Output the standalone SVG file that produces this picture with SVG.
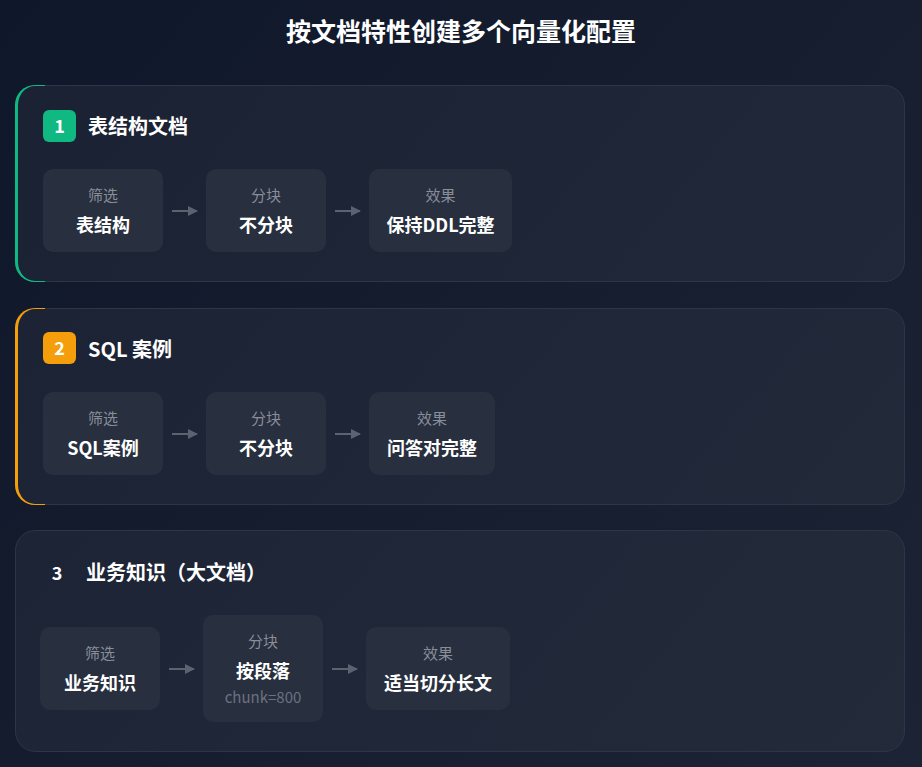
<svg xmlns="http://www.w3.org/2000/svg" width="922" height="767" viewBox="0 0 922 767">
<defs>
<linearGradient id="bg" x1="0" y1="0" x2="922" y2="767" gradientUnits="userSpaceOnUse">
<stop offset="0" stop-color="#0f172a"/><stop offset="1" stop-color="#1c2334"/>
</linearGradient>
<linearGradient id="card" x1="0" y1="0" x2="922" y2="767" gradientUnits="userSpaceOnUse">
<stop offset="0" stop-color="#1a2133"/><stop offset="1" stop-color="#232b3b"/>
</linearGradient>
<mask id="m1"><rect x="15" y="85" width="890" height="197" rx="20" fill="#fff"/><rect x="18" y="86" width="887" height="195" rx="17" ry="19" fill="#000"/></mask>
<mask id="m2"><rect x="15" y="308" width="890" height="197" rx="20" fill="#fff"/><rect x="18" y="309" width="887" height="195" rx="17" ry="19" fill="#000"/></mask>
<marker id="ah" viewBox="0 0 10 10" refX="9" refY="5" markerWidth="10" markerHeight="10" markerUnits="userSpaceOnUse" orient="auto"><path d="M0,0 L10,5 L0,10 z" fill="#5b6270"/></marker>
<style>
text{font-family:"Noto Sans CJK SC","Noto Sans",sans-serif}
.title{font-size:25px;font-weight:700;fill:#ffffff}
.card{fill:url(#card);stroke:#2d3546;stroke-width:1}
.h{font-size:20px;font-weight:700;fill:#ffffff}
.badge-t{font-size:18px;font-weight:700;fill:#ffffff}
.box{fill:#282f3e}
.lab{font-size:15px;fill:#888e9a;text-anchor:middle}
.val{font-size:18px;font-weight:700;fill:#ffffff;text-anchor:middle}
.sub{font-size:15px;fill:#6b7280;text-anchor:middle}
.arr{stroke:#5b6270;stroke-width:2;fill:none}
</style>
</defs>
<rect width="922" height="767" fill="url(#bg)"/>
<text class="title" x="461" y="41" text-anchor="middle">按文档特性创建多个向量化配置</text>

<g id="card1">
<rect class="card" x="15.5" y="85.5" width="889" height="196" rx="20"/>
<rect x="15" y="85" width="30" height="197" fill="#10b981" mask="url(#m1)"/>
<rect x="43" y="110" width="33" height="32" rx="6" fill="#10b981"/>
<text class="badge-t" x="59.5" y="132.5" text-anchor="middle">1</text>
<text class="h" x="88" y="134">表结构文档</text>
</g>
<g id="c1-filter"><rect class="box" x="43" y="169" width="120" height="83" rx="10"/><text class="lab" x="103" y="201">筛选</text><text class="val" x="103" y="232">表结构</text></g>
<g id="c1-chunk"><rect class="box" x="206" y="169" width="120" height="83" rx="10"/><text class="lab" x="266" y="201">分块</text><text class="val" x="266" y="232">不分块</text></g>
<g id="c1-effect"><rect class="box" x="369" y="169" width="143" height="83" rx="10"/><text class="lab" x="440.5" y="201">效果</text><text class="val" x="440.5" y="232">保持DDL完整</text></g>

<g id="card2">
<rect class="card" x="15.5" y="308.5" width="889" height="196" rx="20"/>
<rect x="15" y="308" width="30" height="197" fill="#f59e0b" mask="url(#m2)"/>
<rect x="43" y="332" width="33" height="32" rx="6" fill="#f59e0b"/>
<text class="badge-t" x="59.5" y="354.5" text-anchor="middle">2</text>
<text class="h" x="88" y="357">SQL 案例</text>
</g>
<g id="c2-filter"><rect class="box" x="43" y="392" width="120" height="83" rx="10"/><text class="lab" x="103" y="424">筛选</text><text class="val" x="103" y="455">SQL案例</text></g>
<g id="c2-chunk"><rect class="box" x="206" y="392" width="120" height="83" rx="10"/><text class="lab" x="266" y="424">分块</text><text class="val" x="266" y="455">不分块</text></g>
<g id="c2-effect"><rect class="box" x="369" y="392" width="126" height="83" rx="10"/><text class="lab" x="432" y="424">效果</text><text class="val" x="432" y="455">问答对完整</text></g>

<g id="card3">
<rect class="card" x="15.5" y="530.5" width="889" height="221" rx="20"/>
<text class="badge-t" x="57" y="580" text-anchor="middle">3</text>
<text class="h" x="86" y="580">业务知识（大文档）</text>
</g>
<g id="c3-filter"><rect class="box" x="40" y="627" width="120" height="83" rx="10"/><text class="lab" x="100" y="659">筛选</text><text class="val" x="100" y="690">业务知识</text></g>
<g id="c3-chunk"><rect class="box" x="203" y="615" width="120" height="107" rx="10"/><text class="lab" x="263" y="647">分块</text><text class="val" x="263" y="678">按段落</text><text class="sub" x="263" y="703">chunk=800</text></g>
<g id="c3-effect"><rect class="box" x="366" y="627" width="144" height="83" rx="10"/><text class="lab" x="438" y="659">效果</text><text class="val" x="438" y="690">适当切分长文</text></g>

<g id="connectors">
<line class="arr" x1="172" y1="211" x2="197" y2="211" marker-end="url(#ah)"/>
<line class="arr" x1="335" y1="211" x2="360" y2="211" marker-end="url(#ah)"/>
<line class="arr" x1="172" y1="434" x2="197" y2="434" marker-end="url(#ah)"/>
<line class="arr" x1="335" y1="434" x2="360" y2="434" marker-end="url(#ah)"/>
<line class="arr" x1="169" y1="669" x2="194" y2="669" marker-end="url(#ah)"/>
<line class="arr" x1="332" y1="669" x2="357" y2="669" marker-end="url(#ah)"/>
</g>
</svg>
